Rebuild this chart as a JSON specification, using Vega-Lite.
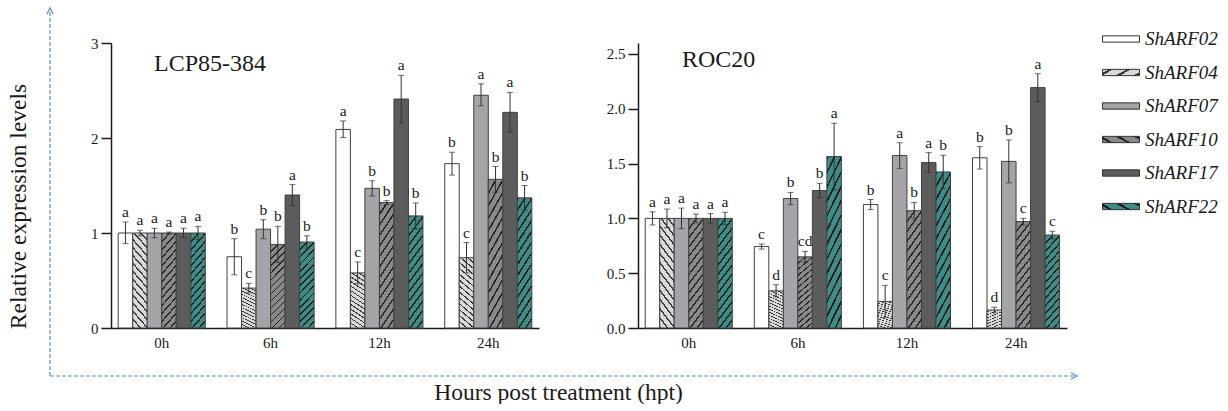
{
  "$schema": "https://vega.github.io/schema/vega-lite/v6.json",
  "padding": {"left": 6, "top": 5, "right": 5, "bottom": 0},
  "background": "white",
  "bounds": "flush",
  "config": {
    "font": "Liberation Serif",
    "view": {"stroke": null},
    "style": {"guide-label": {"font": "Liberation Serif"}, "guide-title": {"font": "Liberation Serif"}},
    "axis": {"labelFont": "Liberation Serif", "titleFont": "Liberation Serif", "labelColor": "#1a1a1a", "titleColor": "#1a1a1a", "domainColor": "#1a1a1a", "tickColor": "#1a1a1a", "grid": false, "labelFontSize": 15, "titleFontWeight": "normal", "domainWidth": 1.5, "tickWidth": 1.5},
    "legend": {"labelFont": "Liberation Serif", "labelFontStyle": "italic", "labelFontSize": 19, "labelColor": "#1a1a1a", "symbolType": "M-1,-0.17H1V0.17H-1Z", "symbolSize": 1369, "symbolStrokeColor": "#333333", "symbolStrokeWidth": 1, "symbolOpacity": 1, "rowPadding": 4.5, "labelOffset": 5, "padding": 0},
    "title": {"font": "Liberation Serif", "fontWeight": "normal", "color": "#1a1a1a"}
  },
  "datasets": {
    "expr": [
      {"cultivar": "LCP85-384", "time": "0h", "gene": "ShARF02", "value": 1.0, "lo": 0.888, "hi": 1.116, "letter": "a"},
      {"cultivar": "LCP85-384", "time": "0h", "gene": "ShARF04", "value": 1.0, "lo": 0.97, "hi": 1.03, "letter": "a"},
      {"cultivar": "LCP85-384", "time": "0h", "gene": "ShARF07", "value": 1.0, "lo": 0.95, "hi": 1.05, "letter": "a"},
      {"cultivar": "LCP85-384", "time": "0h", "gene": "ShARF10", "value": 1.0, "lo": 0.99, "hi": 1.01, "letter": "a"},
      {"cultivar": "LCP85-384", "time": "0h", "gene": "ShARF17", "value": 1.0, "lo": 0.95, "hi": 1.05, "letter": "a"},
      {"cultivar": "LCP85-384", "time": "0h", "gene": "ShARF22", "value": 1.0, "lo": 0.93, "hi": 1.07, "letter": "a"},
      {"cultivar": "LCP85-384", "time": "6h", "gene": "ShARF02", "value": 0.75, "lo": 0.56, "hi": 0.94, "letter": "b"},
      {"cultivar": "LCP85-384", "time": "6h", "gene": "ShARF04", "value": 0.42, "lo": 0.37, "hi": 0.47, "letter": "c"},
      {"cultivar": "LCP85-384", "time": "6h", "gene": "ShARF07", "value": 1.04, "lo": 0.94, "hi": 1.14, "letter": "b"},
      {"cultivar": "LCP85-384", "time": "6h", "gene": "ShARF10", "value": 0.88, "lo": 0.69, "hi": 1.07, "letter": "b"},
      {"cultivar": "LCP85-384", "time": "6h", "gene": "ShARF17", "value": 1.4, "lo": 1.29, "hi": 1.51, "letter": "a"},
      {"cultivar": "LCP85-384", "time": "6h", "gene": "ShARF22", "value": 0.905, "lo": 0.84, "hi": 0.97, "letter": "b"},
      {"cultivar": "LCP85-384", "time": "12h", "gene": "ShARF02", "value": 2.09, "lo": 2.005, "hi": 2.18, "letter": "a"},
      {"cultivar": "LCP85-384", "time": "12h", "gene": "ShARF04", "value": 0.58, "lo": 0.465, "hi": 0.695, "letter": "c"},
      {"cultivar": "LCP85-384", "time": "12h", "gene": "ShARF07", "value": 1.47, "lo": 1.39, "hi": 1.55, "letter": "b"},
      {"cultivar": "LCP85-384", "time": "12h", "gene": "ShARF10", "value": 1.32, "lo": 1.3, "hi": 1.34, "letter": "b"},
      {"cultivar": "LCP85-384", "time": "12h", "gene": "ShARF17", "value": 2.41, "lo": 2.16, "hi": 2.66, "letter": "a"},
      {"cultivar": "LCP85-384", "time": "12h", "gene": "ShARF22", "value": 1.18, "lo": 1.045, "hi": 1.316, "letter": "b"},
      {"cultivar": "LCP85-384", "time": "24h", "gene": "ShARF02", "value": 1.73, "lo": 1.61, "hi": 1.85, "letter": "b"},
      {"cultivar": "LCP85-384", "time": "24h", "gene": "ShARF04", "value": 0.74, "lo": 0.58, "hi": 0.9, "letter": "c"},
      {"cultivar": "LCP85-384", "time": "24h", "gene": "ShARF07", "value": 2.45, "lo": 2.34, "hi": 2.57, "letter": "a"},
      {"cultivar": "LCP85-384", "time": "24h", "gene": "ShARF10", "value": 1.565, "lo": 1.43, "hi": 1.7, "letter": "b"},
      {"cultivar": "LCP85-384", "time": "24h", "gene": "ShARF17", "value": 2.27, "lo": 2.06, "hi": 2.48, "letter": "a"},
      {"cultivar": "LCP85-384", "time": "24h", "gene": "ShARF22", "value": 1.37, "lo": 1.24, "hi": 1.5, "letter": "b"},
      {"cultivar": "ROC20", "time": "0h", "gene": "ShARF02", "value": 1.0, "lo": 0.94, "hi": 1.06, "letter": "a"},
      {"cultivar": "ROC20", "time": "0h", "gene": "ShARF04", "value": 1.0, "lo": 0.915, "hi": 1.085, "letter": "a"},
      {"cultivar": "ROC20", "time": "0h", "gene": "ShARF07", "value": 1.0, "lo": 0.906, "hi": 1.094, "letter": "a"},
      {"cultivar": "ROC20", "time": "0h", "gene": "ShARF10", "value": 1.0, "lo": 0.96, "hi": 1.04, "letter": "a"},
      {"cultivar": "ROC20", "time": "0h", "gene": "ShARF17", "value": 1.0, "lo": 0.956, "hi": 1.044, "letter": "a"},
      {"cultivar": "ROC20", "time": "0h", "gene": "ShARF22", "value": 1.0, "lo": 0.944, "hi": 1.056, "letter": "a"},
      {"cultivar": "ROC20", "time": "6h", "gene": "ShARF02", "value": 0.743, "lo": 0.72, "hi": 0.766, "letter": "c"},
      {"cultivar": "ROC20", "time": "6h", "gene": "ShARF04", "value": 0.339, "lo": 0.283, "hi": 0.395, "letter": "d"},
      {"cultivar": "ROC20", "time": "6h", "gene": "ShARF07", "value": 1.181, "lo": 1.125, "hi": 1.237, "letter": "b"},
      {"cultivar": "ROC20", "time": "6h", "gene": "ShARF10", "value": 0.649, "lo": 0.6, "hi": 0.699, "letter": "cd"},
      {"cultivar": "ROC20", "time": "6h", "gene": "ShARF17", "value": 1.254, "lo": 1.187, "hi": 1.32, "letter": "b"},
      {"cultivar": "ROC20", "time": "6h", "gene": "ShARF22", "value": 1.564, "lo": 1.26, "hi": 1.868, "letter": "a"},
      {"cultivar": "ROC20", "time": "12h", "gene": "ShARF02", "value": 1.126, "lo": 1.08, "hi": 1.172, "letter": "b"},
      {"cultivar": "ROC20", "time": "12h", "gene": "ShARF04", "value": 0.243, "lo": 0.097, "hi": 0.389, "letter": "c"},
      {"cultivar": "ROC20", "time": "12h", "gene": "ShARF07", "value": 1.573, "lo": 1.456, "hi": 1.69, "letter": "a"},
      {"cultivar": "ROC20", "time": "12h", "gene": "ShARF10", "value": 1.07, "lo": 0.994, "hi": 1.146, "letter": "b"},
      {"cultivar": "ROC20", "time": "12h", "gene": "ShARF17", "value": 1.509, "lo": 1.418, "hi": 1.6, "letter": "a"},
      {"cultivar": "ROC20", "time": "12h", "gene": "ShARF22", "value": 1.424, "lo": 1.272, "hi": 1.576, "letter": "b"},
      {"cultivar": "ROC20", "time": "24h", "gene": "ShARF02", "value": 1.553, "lo": 1.45, "hi": 1.655, "letter": "b"},
      {"cultivar": "ROC20", "time": "24h", "gene": "ShARF04", "value": 0.164, "lo": 0.138, "hi": 0.19, "letter": "d"},
      {"cultivar": "ROC20", "time": "24h", "gene": "ShARF07", "value": 1.52, "lo": 1.324, "hi": 1.716, "letter": "b"},
      {"cultivar": "ROC20", "time": "24h", "gene": "ShARF10", "value": 0.971, "lo": 0.94, "hi": 1.0, "letter": "c"},
      {"cultivar": "ROC20", "time": "24h", "gene": "ShARF17", "value": 2.193, "lo": 2.066, "hi": 2.32, "letter": "a"},
      {"cultivar": "ROC20", "time": "24h", "gene": "ShARF22", "value": 0.848, "lo": 0.813, "hi": 0.883, "letter": "c"}
    ]
  },
  "spacing": 99,
  "resolve": {"scale": {"fill": "shared"}},
  "hconcat": [
    {
      "width": 428,
      "height": 285,
      "title": {"text": "LCP85-384", "orient": "top", "anchor": "start", "frame": "group", "fontSize": 24, "offset": 0, "dx": 43, "dy": 71},
      "resolve": {"scale": {"x": "independent", "y": "independent"}, "axis": {"x": "independent", "y": "independent"}},
      "layer": [
        {
          "data": {"name": "expr"},
          "transform": [{"filter": "datum.cultivar === 'LCP85-384'"}],
          "encoding": {
            "x": {"field": "time", "type": "nominal", "sort": ["0h", "6h", "12h", "24h"], "scale": {"paddingInner": 0.2, "paddingOuter": 0.066}, "axis": {"title": null, "labelAngle": 0, "ticks": false, "labelPadding": 7, "labelFont": "Liberation Serif", "labelFontSize": 15}},
            "xOffset": {"field": "gene", "type": "nominal", "scale": {"paddingInner": 0, "paddingOuter": 0}}
          },
          "layer": [
            {
              "mark": {"type": "bar", "stroke": "#404040", "strokeWidth": 1},
              "encoding": {
                "y": {"field": "value", "type": "quantitative", "scale": {"domain": [0, 3]}, "axis": {"orient": "left", "title": "Relative expression levels", "titleFont": "Liberation Serif", "titleFontSize": 23.5, "titlePadding": 60, "titleY": 163, "values": [0, 1, 2, 3], "format": "d", "tickSize": 10, "labelPadding": 3, "labelFont": "Liberation Serif", "labelFontSize": 15}},
                "fill": {
                  "field": "gene", "type": "nominal",
                  "scale": {
                    "domain": ["ShARF02", "ShARF04", "ShARF07", "ShARF10", "ShARF17", "ShARF22"],
                    "range": [
                      "#ffffff",
                      {"expr": "{gradient:'linear',x1:0,y1:1,x2:0.198,y2:-0.139,stops:[{offset:0,color:'#3a3a3a'},{offset:0.0179,color:'#3a3a3a'},{offset:0.0179,color:'#d9d9d9'},{offset:0.0714,color:'#d9d9d9'},{offset:0.0714,color:'#3a3a3a'},{offset:0.0893,color:'#3a3a3a'},{offset:0.0893,color:'#d9d9d9'},{offset:0.1429,color:'#d9d9d9'},{offset:0.1429,color:'#3a3a3a'},{offset:0.1607,color:'#3a3a3a'},{offset:0.1607,color:'#d9d9d9'},{offset:0.2143,color:'#d9d9d9'},{offset:0.2143,color:'#3a3a3a'},{offset:0.2321,color:'#3a3a3a'},{offset:0.2321,color:'#d9d9d9'},{offset:0.2857,color:'#d9d9d9'},{offset:0.2857,color:'#3a3a3a'},{offset:0.3036,color:'#3a3a3a'},{offset:0.3036,color:'#d9d9d9'},{offset:0.3571,color:'#d9d9d9'},{offset:0.3571,color:'#3a3a3a'},{offset:0.375,color:'#3a3a3a'},{offset:0.375,color:'#d9d9d9'},{offset:0.4286,color:'#d9d9d9'},{offset:0.4286,color:'#3a3a3a'},{offset:0.4464,color:'#3a3a3a'},{offset:0.4464,color:'#d9d9d9'},{offset:0.5,color:'#d9d9d9'},{offset:0.5,color:'#3a3a3a'},{offset:0.5179,color:'#3a3a3a'},{offset:0.5179,color:'#d9d9d9'},{offset:0.5714,color:'#d9d9d9'},{offset:0.5714,color:'#3a3a3a'},{offset:0.5893,color:'#3a3a3a'},{offset:0.5893,color:'#d9d9d9'},{offset:0.6429,color:'#d9d9d9'},{offset:0.6429,color:'#3a3a3a'},{offset:0.6607,color:'#3a3a3a'},{offset:0.6607,color:'#d9d9d9'},{offset:0.7143,color:'#d9d9d9'},{offset:0.7143,color:'#3a3a3a'},{offset:0.7321,color:'#3a3a3a'},{offset:0.7321,color:'#d9d9d9'},{offset:0.7857,color:'#d9d9d9'},{offset:0.7857,color:'#3a3a3a'},{offset:0.8036,color:'#3a3a3a'},{offset:0.8036,color:'#d9d9d9'},{offset:0.8571,color:'#d9d9d9'},{offset:0.8571,color:'#3a3a3a'},{offset:0.875,color:'#3a3a3a'},{offset:0.875,color:'#d9d9d9'},{offset:0.9286,color:'#d9d9d9'},{offset:0.9286,color:'#3a3a3a'},{offset:0.9464,color:'#3a3a3a'},{offset:0.9464,color:'#d9d9d9'},{offset:1,color:'#d9d9d9'}]}"},
                      "#a4a4a9",
                      {"expr": "{gradient:'linear',x1:0,y1:0,x2:0.198,y2:1.139,stops:[{offset:0,color:'#262626'},{offset:0.0179,color:'#262626'},{offset:0.0179,color:'#8a8a8a'},{offset:0.0714,color:'#8a8a8a'},{offset:0.0714,color:'#262626'},{offset:0.0893,color:'#262626'},{offset:0.0893,color:'#8a8a8a'},{offset:0.1429,color:'#8a8a8a'},{offset:0.1429,color:'#262626'},{offset:0.1607,color:'#262626'},{offset:0.1607,color:'#8a8a8a'},{offset:0.2143,color:'#8a8a8a'},{offset:0.2143,color:'#262626'},{offset:0.2321,color:'#262626'},{offset:0.2321,color:'#8a8a8a'},{offset:0.2857,color:'#8a8a8a'},{offset:0.2857,color:'#262626'},{offset:0.3036,color:'#262626'},{offset:0.3036,color:'#8a8a8a'},{offset:0.3571,color:'#8a8a8a'},{offset:0.3571,color:'#262626'},{offset:0.375,color:'#262626'},{offset:0.375,color:'#8a8a8a'},{offset:0.4286,color:'#8a8a8a'},{offset:0.4286,color:'#262626'},{offset:0.4464,color:'#262626'},{offset:0.4464,color:'#8a8a8a'},{offset:0.5,color:'#8a8a8a'},{offset:0.5,color:'#262626'},{offset:0.5179,color:'#262626'},{offset:0.5179,color:'#8a8a8a'},{offset:0.5714,color:'#8a8a8a'},{offset:0.5714,color:'#262626'},{offset:0.5893,color:'#262626'},{offset:0.5893,color:'#8a8a8a'},{offset:0.6429,color:'#8a8a8a'},{offset:0.6429,color:'#262626'},{offset:0.6607,color:'#262626'},{offset:0.6607,color:'#8a8a8a'},{offset:0.7143,color:'#8a8a8a'},{offset:0.7143,color:'#262626'},{offset:0.7321,color:'#262626'},{offset:0.7321,color:'#8a8a8a'},{offset:0.7857,color:'#8a8a8a'},{offset:0.7857,color:'#262626'},{offset:0.8036,color:'#262626'},{offset:0.8036,color:'#8a8a8a'},{offset:0.8571,color:'#8a8a8a'},{offset:0.8571,color:'#262626'},{offset:0.875,color:'#262626'},{offset:0.875,color:'#8a8a8a'},{offset:0.9286,color:'#8a8a8a'},{offset:0.9286,color:'#262626'},{offset:0.9464,color:'#262626'},{offset:0.9464,color:'#8a8a8a'},{offset:1,color:'#8a8a8a'}]}"},
                      "#5c5c5c",
                      {"expr": "{gradient:'linear',x1:0,y1:0,x2:0.198,y2:1.139,stops:[{offset:0,color:'#1c1c1c'},{offset:0.0179,color:'#1c1c1c'},{offset:0.0179,color:'#3d8c86'},{offset:0.0714,color:'#3d8c86'},{offset:0.0714,color:'#1c1c1c'},{offset:0.0893,color:'#1c1c1c'},{offset:0.0893,color:'#3d8c86'},{offset:0.1429,color:'#3d8c86'},{offset:0.1429,color:'#1c1c1c'},{offset:0.1607,color:'#1c1c1c'},{offset:0.1607,color:'#3d8c86'},{offset:0.2143,color:'#3d8c86'},{offset:0.2143,color:'#1c1c1c'},{offset:0.2321,color:'#1c1c1c'},{offset:0.2321,color:'#3d8c86'},{offset:0.2857,color:'#3d8c86'},{offset:0.2857,color:'#1c1c1c'},{offset:0.3036,color:'#1c1c1c'},{offset:0.3036,color:'#3d8c86'},{offset:0.3571,color:'#3d8c86'},{offset:0.3571,color:'#1c1c1c'},{offset:0.375,color:'#1c1c1c'},{offset:0.375,color:'#3d8c86'},{offset:0.4286,color:'#3d8c86'},{offset:0.4286,color:'#1c1c1c'},{offset:0.4464,color:'#1c1c1c'},{offset:0.4464,color:'#3d8c86'},{offset:0.5,color:'#3d8c86'},{offset:0.5,color:'#1c1c1c'},{offset:0.5179,color:'#1c1c1c'},{offset:0.5179,color:'#3d8c86'},{offset:0.5714,color:'#3d8c86'},{offset:0.5714,color:'#1c1c1c'},{offset:0.5893,color:'#1c1c1c'},{offset:0.5893,color:'#3d8c86'},{offset:0.6429,color:'#3d8c86'},{offset:0.6429,color:'#1c1c1c'},{offset:0.6607,color:'#1c1c1c'},{offset:0.6607,color:'#3d8c86'},{offset:0.7143,color:'#3d8c86'},{offset:0.7143,color:'#1c1c1c'},{offset:0.7321,color:'#1c1c1c'},{offset:0.7321,color:'#3d8c86'},{offset:0.7857,color:'#3d8c86'},{offset:0.7857,color:'#1c1c1c'},{offset:0.8036,color:'#1c1c1c'},{offset:0.8036,color:'#3d8c86'},{offset:0.8571,color:'#3d8c86'},{offset:0.8571,color:'#1c1c1c'},{offset:0.875,color:'#1c1c1c'},{offset:0.875,color:'#3d8c86'},{offset:0.9286,color:'#3d8c86'},{offset:0.9286,color:'#1c1c1c'},{offset:0.9464,color:'#1c1c1c'},{offset:0.9464,color:'#3d8c86'},{offset:1,color:'#3d8c86'}]}"}
                    ]
                  },
                  "legend": {"title": null, "orient": "none", "legendX": 991, "legendY": -23}
                }
              }
            },
            {"mark": {"type": "rule", "color": "#333333", "strokeWidth": 1}, "encoding": {"y": {"field": "lo", "type": "quantitative"}, "y2": {"field": "hi"}}},
            {"mark": {"type": "tick", "color": "#333333", "thickness": 1, "size": 6}, "encoding": {"y": {"field": "hi", "type": "quantitative"}}},
            {"mark": {"type": "tick", "color": "#333333", "thickness": 1, "size": 6}, "encoding": {"y": {"field": "lo", "type": "quantitative"}}},
            {"mark": {"type": "text", "baseline": "alphabetic", "dy": -5, "fontSize": 15.5, "font": "Liberation Serif", "color": "#1a1a1a", "fill": "#1a1a1a"}, "encoding": {"y": {"field": "hi", "type": "quantitative"}, "text": {"field": "letter"}}}
          ]
        },
        {
          "data": {"values": [{}]},
          "layer": [
            {
              "mark": {"type": "rule", "stroke": "#5b8fd6", "strokeWidth": 1.2, "strokeDash": [4, 2]},
              "encoding": {
                "x": {"datum": 0, "type": "quantitative", "scale": {"domain": [0, 1], "range": [-61, 963]}, "axis": {"orient": "bottom", "offset": 48, "domain": false, "ticks": false, "labels": false, "grid": false, "title": "Hours post treatment (hpt)", "titleFont": "Liberation Serif", "titleFontSize": 23.5, "titleFontWeight": "normal", "titleColor": "#1a1a1a", "titlePadding": 4, "titleX": 447}},
                "y": {"datum": 0, "type": "quantitative", "scale": {"domain": [0, 1], "range": [333, -32]}, "axis": null},
                "y2": {"datum": 1}
              }
            },
            {
              "mark": {"type": "rule", "stroke": "#5b8fd6", "strokeWidth": 1.2, "strokeDash": [4, 2]},
              "encoding": {
                "x": {"datum": 0, "type": "quantitative"},
                "x2": {"datum": 1},
                "y": {"datum": 0, "type": "quantitative"}
              }
            },
            {
              "mark": {"type": "point", "shape": "M-1,1L0,-1L1,1", "filled": false, "stroke": "#5b8fd6", "strokeWidth": 1.2, "size": 40, "opacity": 1},
              "encoding": {
                "x": {"datum": 0, "type": "quantitative"},
                "y": {"datum": 1, "type": "quantitative"}
              }
            },
            {
              "mark": {"type": "point", "shape": "M-1,-1L1,0L-1,1", "filled": false, "stroke": "#5b8fd6", "strokeWidth": 1.2, "size": 40, "opacity": 1},
              "encoding": {
                "x": {"datum": 1, "type": "quantitative"},
                "y": {"datum": 0, "type": "quantitative"}
              }
            }
          ]
        }
      ]
    },
    {
      "width": 429,
      "height": 285,
      "data": {"name": "expr"},
      "transform": [{"filter": "datum.cultivar === 'ROC20'"}],
      "title": {"text": "ROC20", "orient": "top", "anchor": "start", "frame": "group", "fontSize": 24, "offset": 0, "dx": 44, "dy": 29},
      "encoding": {
        "x": {"field": "time", "type": "nominal", "sort": ["0h", "6h", "12h", "24h"], "scale": {"paddingInner": 0.2, "paddingOuter": 0.066}, "axis": {"title": null, "labelAngle": 0, "ticks": false, "labelPadding": 7, "labelFont": "Liberation Serif", "labelFontSize": 15}},
        "xOffset": {"field": "gene", "type": "nominal", "scale": {"paddingInner": 0, "paddingOuter": 0}}
      },
      "layer": [
        {
          "mark": {"type": "bar", "stroke": "#404040", "strokeWidth": 1},
          "encoding": {
            "y": {"field": "value", "type": "quantitative", "scale": {"domain": [0, 2.5]}, "axis": {"title": null, "values": [0, 0.5, 1, 1.5, 2, 2.5], "format": ".1f", "tickSize": 10, "labelPadding": 3, "labelFont": "Liberation Serif", "labelFontSize": 15}},
            "fill": {"field": "gene", "type": "nominal", "legend": {"title": null, "orient": "none", "legendX": 991, "legendY": -23}}
          }
        },
        {"mark": {"type": "rule", "color": "#333333", "strokeWidth": 1}, "encoding": {"y": {"field": "lo", "type": "quantitative"}, "y2": {"field": "hi"}}},
        {"mark": {"type": "tick", "color": "#333333", "thickness": 1, "size": 6}, "encoding": {"y": {"field": "hi", "type": "quantitative"}}},
        {"mark": {"type": "tick", "color": "#333333", "thickness": 1, "size": 6}, "encoding": {"y": {"field": "lo", "type": "quantitative"}}},
        {"mark": {"type": "text", "baseline": "alphabetic", "dy": -5, "fontSize": 15.5, "font": "Liberation Serif", "color": "#1a1a1a", "fill": "#1a1a1a"}, "encoding": {"y": {"field": "hi", "type": "quantitative"}, "text": {"field": "letter"}}}
      ]
    }
  ]
}
